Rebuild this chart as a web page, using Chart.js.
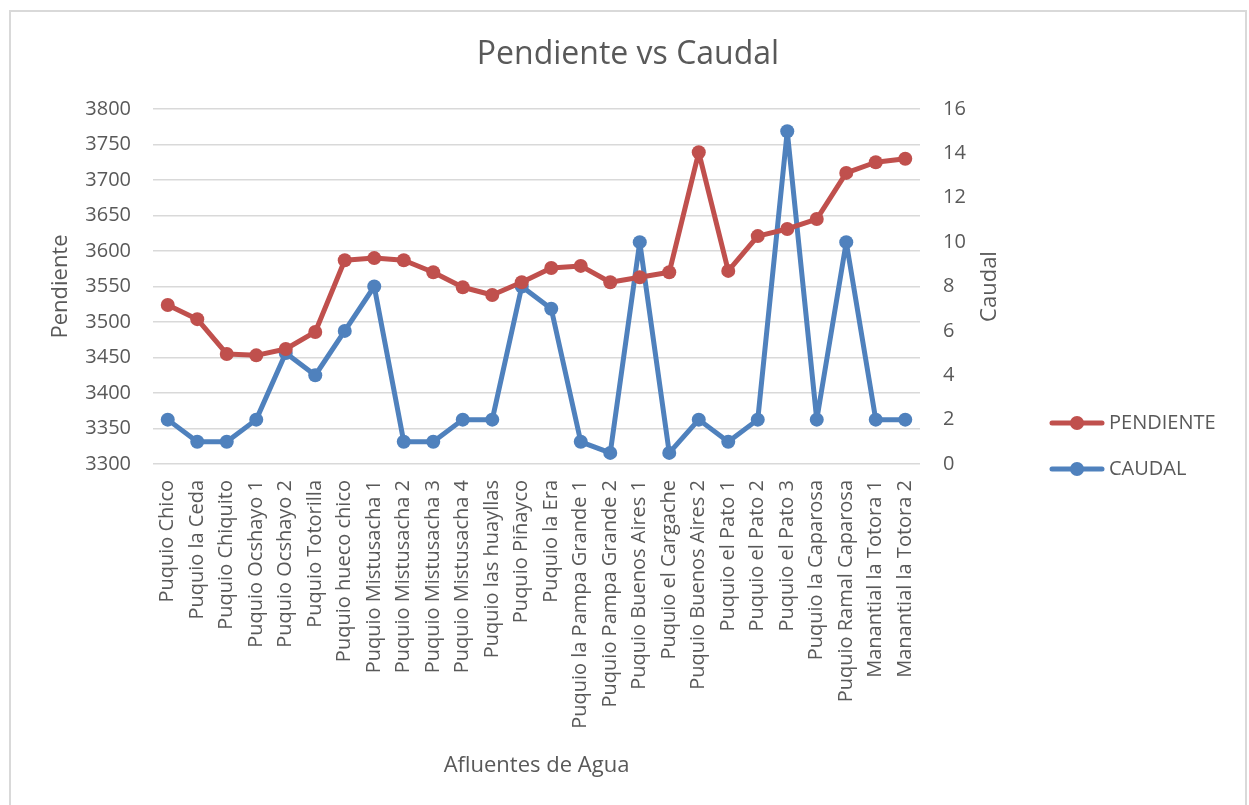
<!DOCTYPE html>
<html>
<head>
<meta charset="utf-8">
<script src="https://cdn.jsdelivr.net/npm/chart.js@4/dist/chart.umd.min.js"></script>
<style>
  body { margin: 0; background: #fff; }
  #wrap { width: 1249px; height: 805px; }
</style>
</head>
<body>
<div id="wrap"><canvas id="chart" width="1249" height="805"></canvas></div>
<script>
// data
const categories = [
  'Puquio Chico', 'Puquio la Ceda', 'Puquio Chiquito', 'Puquio Ocshayo 1', 'Puquio Ocshayo 2',
  'Puquio Totorilla', 'Puquio hueco chico', 'Puquio Mistusacha 1', 'Puquio Mistusacha 2',
  'Puquio Mistusacha 3', 'Puquio Mistusacha 4', 'Puquio las huayllas', 'Puquio Piñayco',
  'Puquio la Era', 'Puquio la Pampa Grande 1', 'Puquio Pampa Grande 2', 'Puquio Buenos Aires 1',
  'Puquio el Cargache', 'Puquio Buenos Aires 2', 'Puquio el Pato 1', 'Puquio el Pato 2',
  'Puquio el Pato 3', 'Puquio la Caparosa', 'Puquio Ramal Caparosa', 'Manantial la Totora 1',
  'Manantial la Totora 2'
];
const pendiente = [3524, 3504, 3455, 3453, 3462, 3486, 3587, 3590, 3587, 3570, 3549, 3538, 3556,
  3576, 3579, 3556, 3563, 3570, 3739, 3572, 3621, 3631, 3645, 3710, 3725, 3730];
const caudal = [2, 1, 1, 2, 5, 4, 6, 8, 1, 1, 2, 2, 8, 7, 1, 0.5, 10, 0.5, 2, 1, 2, 15, 2, 10, 2, 2];
const leftTicks = [3300, 3800, 50];
const rightTicks = [0, 16, 2];

const RED = '#C0504D';
const BLUE = '#4F81BD';
const TXT = '#595959';
const FONT = 'Open Sans';

// frame, title, right axis title and legend drawn on the canvas
const extras = {
  id: 'extras',
  beforeDraw(chart) {
    const c = chart.ctx;
    c.save();
    c.fillStyle = '#fff';
    c.fillRect(0, 0, chart.width, chart.height);
    c.strokeStyle = '#d9d9d9';
    c.lineWidth = 2;
    c.strokeRect(10, 11, 1236, 800);
    c.fillStyle = TXT;
    c.font = '32px "' + FONT + '"';
    c.textAlign = 'center';
    c.textBaseline = 'middle';
    c.fillText('Pendiente vs Caudal', 628, 55);
    // Caudal title reads bottom to top, like the left one
    const a = chart.chartArea;
    c.font = '22px "' + FONT + '"';
    c.translate(990, (a.top + a.bottom) / 2);
    c.rotate(-Math.PI / 2);
    c.fillText('Caudal', 0, 0);
    c.restore();
  },
  afterDraw(chart) {
    const c = chart.ctx;
    const items = [['PENDIENTE', RED, 423], ['CAUDAL', BLUE, 469]];
    c.save();
    items.forEach(([label, color, y]) => {
      c.strokeStyle = color;
      c.lineWidth = 5;
      c.lineCap = 'round';
      c.beginPath();
      c.moveTo(1052, y);
      c.lineTo(1102, y);
      c.stroke();
      c.fillStyle = color;
      c.beginPath();
      c.arc(1077, y, 7, 0, Math.PI * 2);
      c.fill();
      c.fillStyle = TXT;
      c.font = '20px "' + FONT + '"';
      c.textBaseline = 'middle';
      c.fillText(label, 1109, y);
    });
    c.restore();
  }
};

const ctx = document.getElementById('chart').getContext('2d');

new Chart(ctx, {
  type: 'line',
  data: {
    labels: categories,
    datasets: [
      {
        label: 'PENDIENTE',
        data: pendiente,
        yAxisID: 'y',
        borderColor: RED,
        backgroundColor: RED,
        borderWidth: 5,
        borderJoinStyle: 'round',
        pointRadius: 7,
        pointHoverRadius: 7,
        pointBorderWidth: 0,
        tension: 0
      },
      {
        label: 'CAUDAL',
        data: caudal,
        yAxisID: 'y1',
        borderColor: BLUE,
        backgroundColor: BLUE,
        borderWidth: 5,
        borderJoinStyle: 'round',
        pointRadius: 7,
        pointHoverRadius: 7,
        pointBorderWidth: 0,
        tension: 0
      }
    ]
  },
  options: {
    responsive: false,
    animation: false,
    layout: { padding: { left: 44, right: 245, top: 109, bottom: 26 } },
    scales: {
      x: {
        offset: true,
        grid: { display: false },
        border: { display: false },
        ticks: {
          autoSkip: false,
          minRotation: 90,
          maxRotation: 90,
          padding: 8,
          color: TXT,
          font: { family: FONT, size: 20 }
        },
        title: {
          display: true,
          text: 'Afluentes de Agua',
          color: TXT,
          padding: { top: 4, bottom: 0 },
          font: { family: FONT, size: 22 }
        },
        afterFit(scale) { scale.height = 315; }
      },
      y: {
        position: 'left',
        min: leftTicks[0],
        max: leftTicks[1],
        ticks: {
          stepSize: leftTicks[2],
          padding: 22,
          color: TXT,
          font: { family: FONT, size: 20 },
          callback: (v) => String(v)
        },
        grid: { color: '#d9d9d9', lineWidth: 1.5, drawTicks: false },
        border: { display: false },
        title: {
          display: true,
          text: 'Pendiente',
          color: TXT,
          font: { family: FONT, size: 22 }
        },
        afterFit(scale) { scale.width = 109; }
      },
      y1: {
        position: 'right',
        min: rightTicks[0],
        max: rightTicks[1],
        ticks: {
          stepSize: rightTicks[2],
          padding: 23,
          color: TXT,
          font: { family: FONT, size: 20 },
          callback: (v) => String(v)
        },
        grid: { display: false, drawTicks: false },
        border: { display: false },
        title: { display: false },
        afterFit(scale) { scale.width = 84; }
      }
    },
    plugins: {
      legend: { display: false },
      tooltip: { enabled: false },
      title: { display: false }
    }
  },
  plugins: [extras]
});
</script>
</body>
</html>
